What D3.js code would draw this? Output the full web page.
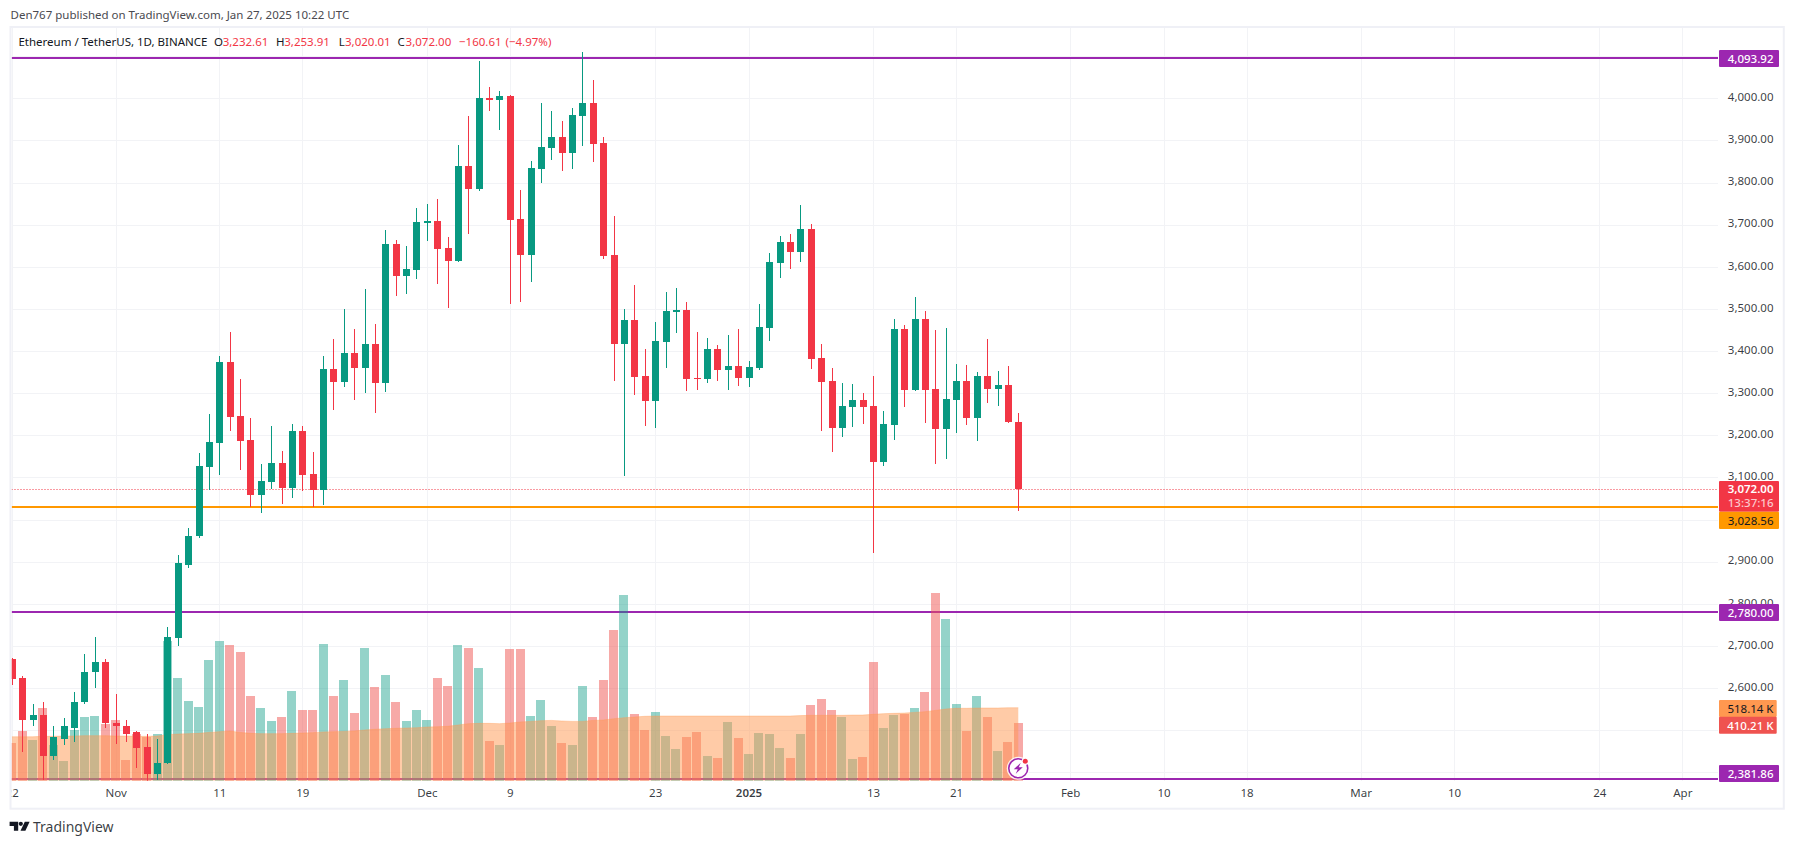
<!DOCTYPE html>
<html>
<head>
<meta charset="utf-8">
<title>ETHUSDT 1D</title>
<script src="https://cdn.jsdelivr.net/npm/d3@7"></script>
<style>
    html, body { margin: 0; padding: 0; background: #fff; }
    svg { display: block; }
    text { font-family: "Noto Sans", sans-serif; }
</style>
</head>
<body>
<div id="chart"></div>
<script>
// Candles, one per day starting at firstDay
const firstDay = Date.UTC(2024, 9, 22);

const opens = [
    2668, 2623, 2523, 2537, 2438, 2480, 2506, 2566, 2637, 2661,
    2518, 2511, 2495, 2459, 2397, 2421, 2720, 2893, 2960, 3124,
    3181, 3373, 3245, 3188, 3058, 3089, 3134, 3074, 3210, 3108,
    3070, 3357, 3326, 3395, 3359, 3416, 3324, 3654, 3578, 3592,
    3704, 3709, 3645, 3614, 3839, 3785, 4001, 3996, 4006, 3714,
    3628, 3832, 3882, 3908, 3870, 3958, 3989, 3894, 3627, 3416,
    3473, 3340, 3281, 3421, 3492, 3497, 3335, 3333, 3404, 3354,
    3364, 3336, 3359, 3454, 3608, 3658, 3635, 3690, 3383, 3328,
    3217, 3267, 3283, 3269, 3136, 3224, 3452, 3307, 3476, 3309,
    3214, 3283, 3328, 3241, 3340, 3309, 3319, 3232.61
];
const closes = [
    2621, 2523, 2537, 2438, 2483, 2509, 2568, 2639, 2661, 2516,
    2509, 2492, 2457, 2397, 2423, 2722, 2896, 2962, 3127, 3184,
    3373, 3243, 3186, 3058, 3091, 3134, 3074, 3210, 3105, 3070,
    3357, 3326, 3395, 3359, 3416, 3324, 3654, 3578, 3595, 3706,
    3709, 3642, 3614, 3839, 3785, 4000, 3996, 4006, 3711, 3628,
    3835, 3884, 3908, 3870, 3960, 3989, 3892, 3626, 3416, 3473,
    3338, 3281, 3423, 3495, 3497, 3333, 3333, 3404, 3354, 3364,
    3336, 3362, 3457, 3611, 3658, 3635, 3690, 3381, 3326, 3217,
    3269, 3283, 3267, 3136, 3226, 3452, 3307, 3476, 3307, 3214,
    3286, 3328, 3241, 3340, 3309, 3319, 3231, 3072
];
const highs = [
    2672, 2628, 2563, 2566, 2509, 2528, 2590, 2682, 2722, 2670,
    2587, 2523, 2497, 2492, 2480, 2746, 2917, 2981, 3157, 3250,
    3388, 3445, 3333, 3241, 3131, 3222, 3162, 3226, 3222, 3160,
    3388, 3428, 3499, 3452, 3547, 3464, 3687, 3664, 3649, 3740,
    3749, 3761, 3671, 3889, 3958, 4089, 4027, 4017, 4008, 3782,
    3851, 3989, 3970, 3946, 3977, 4110, 4044, 3908, 3721, 3499,
    3556, 3404, 3468, 3540, 3549, 3516, 3445, 3430, 3414, 3438,
    3452, 3376, 3511, 3632, 3673, 3678, 3747, 3702, 3416, 3359,
    3324, 3321, 3300, 3340, 3257, 3476, 3461, 3528, 3495, 3449,
    3454, 3369, 3366, 3350, 3428, 3352, 3364, 3253.91
];
const lows = [
    2607, 2449, 2509, 2381, 2430, 2464, 2473, 2561, 2599, 2504,
    2468, 2471, 2411, 2379, 2381, 2419, 2699, 2886, 2956, 3070,
    3105, 3210, 3117, 3029, 3015, 3072, 3036, 3051, 3067, 3029,
    3034, 3260, 3314, 3283, 3300, 3252, 3302, 3531, 3535, 3571,
    3661, 3558, 3502, 3612, 3678, 3780, 3970, 3925, 3512, 3517,
    3564, 3799, 3854, 3828, 3832, 3887, 3849, 3618, 3328, 3104,
    3295, 3222, 3217, 3359, 3442, 3305, 3307, 3324, 3328, 3307,
    3317, 3314, 3354, 3423, 3573, 3594, 3611, 3357, 3210, 3160,
    3195, 3219, 3226, 2920, 3127, 3188, 3267, 3305, 3229, 3131,
    3143, 3205, 3224, 3186, 3276, 3269, 3229, 3020.01
];

// Volume and its moving average, in thousands
const volumes = [
    267, 353, 289, 516, 253, 140, 360, 452, 459, 402,
    431, 147, 331, 312, 331, 992, 729, 566, 523, 857,
    992, 963, 914, 601, 516, 424, 452, 637, 502, 502,
    970, 601, 715, 480, 942, 665, 750, 559, 424, 502,
    431, 729, 672, 963, 942, 800, 282, 253, 935, 935,
    459, 573, 388, 267, 253, 672, 452, 715, 1070, 1318,
    473, 360, 488, 317, 225, 310, 346, 175, 161, 417,
    303, 189, 338, 331, 232, 161, 331, 537, 580, 502,
    452, 154, 168, 843, 374, 466, 473, 516, 630, 1333,
    1148, 544, 353, 601, 452, 211, 275, 410.21
];
const volumeMa = [
    312, 312, 312, 315, 315, 317, 317, 320, 320, 320,
    317, 317, 315, 315, 317, 327, 331, 334, 336, 343,
    348, 353, 343, 336, 334, 334, 334, 336, 338, 341,
    346, 348, 350, 353, 360, 365, 369, 372, 374, 376,
    381, 383, 386, 395, 405, 407, 407, 405, 409, 417,
    421, 426, 428, 424, 421, 421, 428, 431, 440, 447,
    452, 457, 459, 459, 459, 459, 459, 459, 459, 459,
    459, 459, 459, 459, 459, 459, 462, 464, 464, 464,
    464, 466, 466, 471, 476, 478, 480, 485, 490, 499,
    509, 514, 514, 516, 516, 516, 518, 518.14
];

// Axis ticks. Gridlines run at every 100, the levels' labels cover some of the texts
const priceTicks = d3.range(2400, 4101, 100);
const hiddenPriceLabels = [4100, 3000, 2500, 2400];
const timeTicks = [
    [2024, 9, 22, "22"], [2024, 10, 1, "Nov"], [2024, 10, 11, "11"], [2024, 10, 19, "19"],
    [2024, 11, 1, "Dec"], [2024, 11, 9, "9"], [2024, 11, 23, "23"], [2025, 0, 1, "2025"],
    [2025, 0, 13, "13"], [2025, 0, 21, "21"], [2025, 1, 1, "Feb"], [2025, 1, 10, "10"],
    [2025, 1, 18, "18"], [2025, 2, 1, "Mar"], [2025, 2, 10, "10"], [2025, 2, 24, "24"],
    [2025, 3, 1, "Apr"]
];

// Horizontal levels drawn on the chart
const purpleLevels = [4093.92, 2780.00, 2381.86];
const orangeLevel = 3028.56;
const lastClose = 3072.00;
const countdown = "13:37:16";
const lastVolume = "410.21 K";
const lastMa = "518.14 K";

const upColor = "#089981";
const downColor = "#f23645";
const purple = "#9c27b0";
const orange = "#ff9800";
const gridColor = "#f2f3f6";
const textColor = "#131722";
const fontSize = 11.5;

const width = 1794, height = 844;
const plot = {left: 11.5, right: 1718, top: 28, bottom: 780.7};

const svg = d3.select("#chart").append("svg")
    .attr("width", width)
    .attr("height", height);

// Scales
const dayMs = 86400000;
const x = d3.scaleUtc()
    .domain([Date.UTC(2024, 10, 1), Date.UTC(2025, 3, 1)])
    .range([115.6, 1682.3]);
const y = d3.scaleLinear()
    .domain([2400, 4000])
    .range([772.3, 98.3]);
const yVol = d3.scaleLinear()
    .domain([0, 1400])
    .range([plot.bottom, plot.bottom - 197.2]);

const candles = opens.map((o, i) => ({
    date: new Date(firstDay + i * dayMs),
    open: o, high: highs[i], low: lows[i], close: closes[i],
    volume: volumes[i], ma: volumeMa[i],
    up: closes[i] >= o
}));

const defs = svg.append("defs");
defs.append("clipPath").attr("id", "plot-clip")
    .append("rect")
    .attr("x", plot.left).attr("y", plot.top)
    .attr("width", plot.right - plot.left).attr("height", plot.bottom - plot.top);
// Used inside the translated time axis group, so its y is relative to the pane bottom
defs.append("clipPath").attr("id", "time-clip")
    .append("rect")
    .attr("x", plot.left).attr("y", plot.top - plot.bottom)
    .attr("width", plot.right - plot.left + 66).attr("height", 780);

// Header line above the frame
svg.append("text")
    .attr("x", 10.5).attr("y", 19)
    .attr("font-size", 11.5).attr("fill", "#4a4a50")
    .text("Den767 published on TradingView.com, Jan 27, 2025 10:22 UTC");

// Gridlines and axes
const priceAxis = d3.axisRight(y)
    .tickValues(priceTicks)
    .tickFormat(d => hiddenPriceLabels.includes(d) ? "" : d3.format(",.2f")(d))
    .tickSize(-(plot.right - plot.left));
const priceG = svg.append("g")
    .attr("transform", `translate(${plot.right},0)`)
    .call(priceAxis);
priceG.select(".domain").remove();
priceG.selectAll("line").attr("stroke", gridColor).attr("shape-rendering", "crispEdges");
priceG.selectAll("text")
    .attr("x", 55.5).attr("dy", "0.2em")
    .attr("text-anchor", "end")
    .attr("font-size", fontSize).attr("font-family", null)
    .attr("fill", textColor).attr("fill-opacity", 0.85);

const tickLabel = new Map(timeTicks.map(t => [Date.UTC(t[0], t[1], t[2]), t[3]]));
const timeAxis = d3.axisBottom(x)
    .tickValues(timeTicks.map(t => new Date(Date.UTC(t[0], t[1], t[2]))))
    .tickFormat(d => tickLabel.get(+d))
    .tickSize(-(plot.bottom - plot.top))
    .tickPadding(8);
const timeG = svg.append("g")
    .attr("transform", `translate(0,${plot.bottom})`)
    .attr("clip-path", "url(#time-clip)")
    .call(timeAxis);
timeG.select(".domain").remove();
timeG.selectAll("line").attr("stroke", gridColor).attr("shape-rendering", "crispEdges");
timeG.selectAll("text")
    .attr("font-size", fontSize).attr("font-family", null)
    .attr("fill", textColor).attr("fill-opacity", 0.85)
    .attr("font-weight", d => +d === Date.UTC(2025, 0, 1) ? 600 : 400);

const pane = svg.append("g").attr("clip-path", "url(#plot-clip)");

// Level lines sit below the volume and the candles, snapped to whole pixels
pane.selectAll(".level")
    .data(purpleLevels)
    .join("line")
    .attr("class", "level")
    .attr("x1", plot.left).attr("x2", plot.right)
    .attr("y1", d => Math.floor(y(d))).attr("y2", d => Math.floor(y(d)))
    .attr("stroke", purple).attr("stroke-width", 2);
pane.append("line")
    .attr("x1", plot.left).attr("x2", plot.right)
    .attr("y1", Math.floor(y(orangeLevel))).attr("y2", Math.floor(y(orangeLevel)))
    .attr("stroke", orange).attr("stroke-width", 2);
pane.append("line")
    .attr("x1", plot.left).attr("x2", plot.right)
    .attr("y1", Math.round(y(lastClose)) + 0.5).attr("y2", Math.round(y(lastClose)) + 0.5)
    .attr("stroke", downColor).attr("stroke-dasharray", "1 2");

// Volume bars
pane.selectAll(".vol")
    .data(candles)
    .join("rect")
    .attr("class", "vol")
    .attr("x", d => x(d.date) - 4.5)
    .attr("width", 9)
    .attr("y", d => yVol(d.volume))
    .attr("height", d => yVol(0) - yVol(d.volume))
    .attr("shape-rendering", "crispEdges")
    .attr("fill", d => d.up ? "rgba(8,153,129,0.43)" : "rgba(239,83,80,0.5)");

// Volume moving average area
pane.append("path")
    .datum(candles)
    .attr("d", d3.area().x(d => x(d.date)).y0(yVol(0)).y1(d => yVol(d.ma)))
    .attr("fill", "rgba(255,152,80,0.5)");
pane.append("path")
    .datum(candles)
    .attr("d", d3.line().x(d => x(d.date)).y(d => yVol(d.ma)))
    .attr("fill", "none")
    .attr("stroke", "rgba(255,152,80,0.35)");

// Candles
pane.selectAll(".wick")
    .data(candles)
    .join("rect")
    .attr("class", "wick")
    .attr("x", d => Math.round(x(d.date)) - 0.5)
    .attr("width", 1)
    .attr("y", d => y(d.high))
    .attr("height", d => y(d.low) - y(d.high))
    .attr("shape-rendering", "crispEdges")
    .attr("fill", d => d.up ? upColor : downColor);
pane.selectAll(".body")
    .data(candles)
    .join("rect")
    .attr("class", "body")
    .attr("x", d => Math.round(x(d.date)) - 3.5)
    .attr("width", 7)
    .attr("y", d => y(Math.max(d.open, d.close)))
    .attr("height", d => Math.max(1, Math.abs(y(d.open) - y(d.close))))
    .attr("shape-rendering", "crispEdges")
    .attr("fill", d => d.up ? upColor : downColor);

// Legend row
const fmt = d3.format(",.2f");
const legendY = 45.5;
const legend = [
    ["Ethereum / TetherUS, 1D, BINANCE", 18.4, textColor],
    ["O", 214, textColor], [fmt(opens[opens.length - 1]), 222.7, downColor],
    ["H", 276, textColor], [fmt(highs[highs.length - 1]), 284.3, downColor],
    ["L", 338.7, textColor], [fmt(lows[lows.length - 1]), 345, downColor],
    ["C", 397.5, textColor], [fmt(lastClose), 405.6, downColor],
    ["\u2212160.61", 459, downColor], ["(\u22124.97%)", 505.5, downColor]
];
svg.selectAll(".legend")
    .data(legend)
    .join("text")
    .attr("class", "legend")
    .attr("x", d => d[1]).attr("y", legendY)
    .attr("font-size", fontSize)
    .attr("fill", d => d[2])
    .text(d => d[0]);

// Price labels on the right hand scale
const boxX = 1719, boxW = 60, textX = 1773.5;
function priceBox(top, h, fill, w) {
    svg.append("rect")
        .attr("x", boxX).attr("y", top)
        .attr("width", w || boxW).attr("height", h)
        .attr("rx", 1)
        .attr("fill", fill);
}
function priceText(txt, yPos, fill, weight) {
    svg.append("text")
        .attr("x", textX).attr("y", yPos)
        .attr("text-anchor", "end")
        .attr("font-size", fontSize)
        .attr("font-weight", weight || 400)
        .attr("fill", fill)
        .text(txt);
}
purpleLevels.forEach(level => {
    const top = Math.min(Math.floor(y(level)) - 8, 765);
    priceBox(top, 17, purple);
    priceText(fmt(level), top + 12.8, "#fff", 500);
});
priceBox(481, 30.7, downColor);
priceText(fmt(lastClose), 493.4, "#fff", 600);
priceText(countdown, 507, "#fcc7cc", 500);
priceBox(511.7, 17.3, orange);
priceText(fmt(orangeLevel), 524.6, textColor);
priceBox(700, 17, "#ff9850", 57.7);
priceText(lastMa, 712.8, textColor);
priceBox(716.7, 17, "#ef5350", 57.7);
priceText(lastVolume, 729.6, "#fff", 500);

// Lightning badge on the last bar
const badge = svg.append("g")
    .attr("transform", `translate(${x(candles[candles.length - 1].date)},768.3)`);
badge.append("circle").attr("r", 11.5).attr("fill", "#fff").attr("fill-opacity", 0.85);
badge.append("circle").attr("r", 9.5).attr("fill", "#fff")
    .attr("stroke", purple).attr("stroke-width", 1.6);
badge.append("path")
    .attr("d", "M2.5 -5.5 L-4.5 1 L-0.5 1 L-2.5 5.5 L4.5 -1 L0.5 -1 Z")
    .attr("fill", purple);
badge.append("circle").attr("cx", 7).attr("cy", -7).attr("r", 3.6).attr("fill", "#fff");
badge.append("circle").attr("cx", 7).attr("cy", -7).attr("r", 2.5).attr("fill", downColor);

// Frame around the chart
svg.append("rect")
    .attr("x", 10.5).attr("y", 27)
    .attr("width", 1773.3).attr("height", 781.7)
    .attr("fill", "none")
    .attr("stroke", "#eff0f6").attr("stroke-width", 2);

// TradingView logo
const logo = svg.append("g").attr("transform", "translate(9.6,821.7)").attr("fill", "#131722");
logo.append("path").attr("d", "M0 0 H8.6 V9 H4.3 V4.3 H0 Z");
logo.append("circle").attr("cx", 11.2).attr("cy", 2.1).attr("r", 2.1);
logo.append("path").attr("d", "M15.2 0 H20 L15.8 9 H10.9 Z");
svg.append("text")
    .attr("x", 33).attr("y", 831.5)
    .attr("font-size", 14).attr("fill", "#131722").attr("fill-opacity", 0.85)
    .text("TradingView");
</script>
</body>
</html>
